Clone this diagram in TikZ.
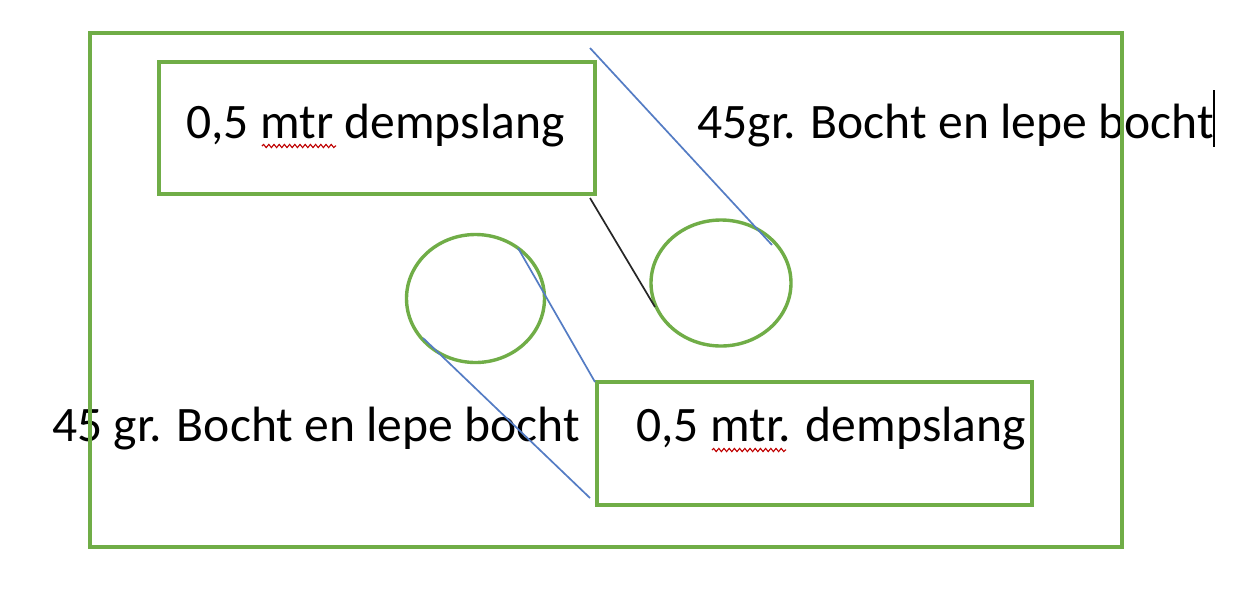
\documentclass[tikz,border=0pt]{standalone}
\usepackage{fontspec}
\setmainfont{Carlito}
\usetikzlibrary{decorations.pathmorphing}
\definecolor{grn}{RGB}{112,173,71}
\definecolor{blu}{RGB}{84,124,196}
\begin{document}
\begin{tikzpicture}[x=0.5pt,y=-0.5pt,
  lbl/.style={anchor=base west,inner sep=0pt,font=\fontsize{24.8}{29}\selectfont},
  boxframe/.style={draw=grn,line width=2pt},
  ring/.style={draw=grn,line width=1.7pt},
  bluline/.style={draw=blu,line width=0.85pt},
  blkline/.style={draw=black!85,line width=0.85pt},
  wavy/.style={draw=red!75!black,line width=0.55pt,decorate,decoration={snake,amplitude=0.8pt,segment length=2.6pt}}]
\useasboundingbox (0,0) rectangle (1254,601);
\fill[white] (0,0) rectangle (1254,601);
% texts
\node[lbl] (t1) at (186,138) {0,5 mtr dempslang};
\node[lbl] (t2) at (697,138) {45gr. Bocht en lepe bocht};
\node[lbl] (t3) at (52,441) {45 gr. Bocht en lepe bocht};
\node[lbl] (t4) at (636,441) {0,5 mtr. dempslang};
% outer frame
\draw[boxframe] (90,33) rectangle (1122,547);
% boxes
\draw[boxframe] (159,62) rectangle (595,194);
\draw[boxframe] (597,382) rectangle (1032,505);
% circles
\coordinate (c1) at (475.5,298.5);
\coordinate (c2) at (721,283);
\draw[ring] (c1) ellipse [x radius=69, y radius=64];
\draw[ring] (c2) ellipse [x radius=70, y radius=63];
% connector lines
\coordinate (a1) at (590,48);
\coordinate (a2) at (772,245);
\coordinate (b1) at (590,198);
\coordinate (b2) at (655,307);
\coordinate (d1) at (518,248);
\coordinate (d2) at (595,382);
\coordinate (e1) at (423,338);
\coordinate (e2) at (590,498);
\draw[bluline] (a1) -- (a2);
\draw[blkline] (b1) -- (b2);
\draw[bluline] (d1) -- (d2);
\draw[bluline] (e1) -- (e2);
% spelling underlines
\coordinate (u1a) at (262,146);
\coordinate (u1b) at (336,146);
\coordinate (u2a) at (712,450);
\coordinate (u2b) at (786,450);
\draw[wavy] (u1a) -- (u1b);
\draw[wavy] (u2a) -- (u2b);
% caret
\coordinate (k1) at (1214,90);
\coordinate (k2) at (1214,147);
\draw[black,line width=0.6pt] (k1) -- (k2);
\end{tikzpicture}
\end{document}
